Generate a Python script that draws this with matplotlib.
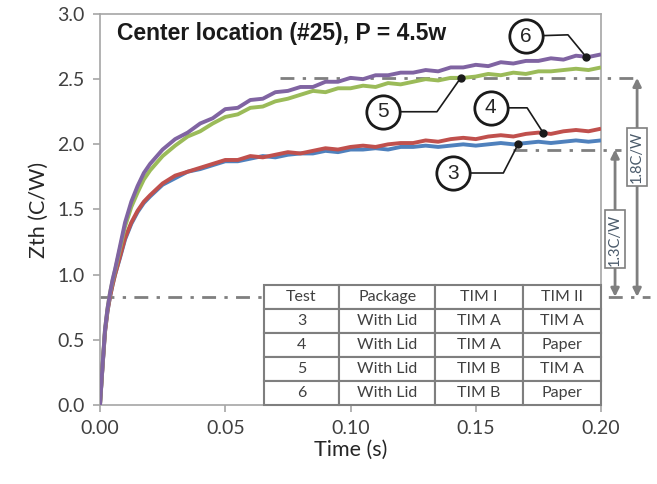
import matplotlib as mpl
import matplotlib.pyplot as plt
import numpy as np

mpl.rcParams.update({
    "font.family": ["Lato", "DejaVu Sans"],
    "axes.edgecolor": "#a6a6a6",
    "axes.linewidth": 1.2,
    "xtick.color": "#a6a6a6",
    "ytick.color": "#a6a6a6",
    "xtick.labelcolor": "#404040",
    "ytick.labelcolor": "#404040",
})

# time axis (s)
time_s = [0.0, 0.001, 0.002, 0.003, 0.004, 0.005, 0.006, 0.008, 0.010, 0.0125,
          0.015, 0.0175, 0.020, 0.025, 0.030, 0.035, 0.040, 0.045, 0.050, 0.055,
          0.060, 0.065, 0.070, 0.075, 0.080, 0.085, 0.090, 0.095, 0.100, 0.105,
          0.110, 0.115, 0.120, 0.125, 0.130, 0.135, 0.140, 0.145, 0.150, 0.155,
          0.160, 0.165, 0.170, 0.175, 0.180, 0.185, 0.190, 0.195, 0.200]

# Zth (C/W) per test
zth_3 = [0.00, 0.29, 0.56, 0.72, 0.83, 0.92, 1.00, 1.13, 1.27, 1.39,
         1.48, 1.55, 1.60, 1.69, 1.74, 1.79, 1.81, 1.84, 1.87, 1.87,
         1.89, 1.91, 1.90, 1.92, 1.93, 1.93, 1.95, 1.94, 1.96, 1.96,
         1.97, 1.96, 1.98, 1.98, 1.99, 1.98, 1.99, 2.00, 1.99, 2.00,
         2.01, 2.00, 2.01, 2.02, 2.01, 2.02, 2.03, 2.02, 2.03]
zth_4 = [0.00, 0.29, 0.56, 0.72, 0.83, 0.92, 1.00, 1.14, 1.28, 1.40,
         1.49, 1.56, 1.61, 1.70, 1.76, 1.79, 1.82, 1.85, 1.88, 1.88,
         1.91, 1.90, 1.92, 1.94, 1.93, 1.95, 1.97, 1.96, 1.98, 1.99,
         1.98, 2.00, 2.01, 2.01, 2.03, 2.02, 2.04, 2.05, 2.04, 2.06,
         2.07, 2.06, 2.08, 2.09, 2.08, 2.10, 2.11, 2.10, 2.12]
zth_5 = [0.00, 0.30, 0.58, 0.74, 0.86, 0.95, 1.03, 1.20, 1.37, 1.52,
         1.63, 1.73, 1.80, 1.91, 1.99, 2.06, 2.10, 2.16, 2.21, 2.23,
         2.28, 2.29, 2.33, 2.35, 2.38, 2.41, 2.40, 2.43, 2.43, 2.45,
         2.44, 2.47, 2.46, 2.48, 2.50, 2.49, 2.51, 2.51, 2.52, 2.54,
         2.53, 2.55, 2.54, 2.56, 2.56, 2.57, 2.58, 2.57, 2.59]
zth_6 = [0.00, 0.30, 0.58, 0.74, 0.86, 0.96, 1.04, 1.22, 1.40, 1.56,
         1.68, 1.78, 1.85, 1.96, 2.04, 2.09, 2.16, 2.20, 2.27, 2.28,
         2.34, 2.35, 2.40, 2.41, 2.44, 2.44, 2.48, 2.48, 2.51, 2.50,
         2.53, 2.53, 2.55, 2.55, 2.57, 2.56, 2.59, 2.59, 2.61, 2.60,
         2.63, 2.62, 2.64, 2.64, 2.66, 2.65, 2.68, 2.67, 2.69]

test_ids = ["3", "4", "5", "6"]
series = [zth_3, zth_4, zth_5, zth_6]
colors = ["#4f81bd", "#c0504d", "#9bbb59", "#8064a2"]

# callouts: marker time, circle centre, elbow
callout_t = [0.167, 0.177, 0.144, 0.194]
circle_xy = [(0.141, 1.78), (0.156, 2.28), (0.113, 2.25), (0.170, 2.83)]
elbow_xy = [(0.161, 1.78), (0.1705, 2.28), (0.1345, 2.25), (0.1868, 2.84)]

# reference levels and deltas
level_low = 0.83
level_mid = 1.96
level_high = 2.51

table_rows = [
    ["Test", "Package", "TIM I", "TIM II"],
    ["3", "With Lid", "TIM A", "TIM A"],
    ["4", "With Lid", "TIM A", "Paper"],
    ["5", "With Lid", "TIM B", "TIM A"],
    ["6", "With Lid", "TIM B", "Paper"],
]

fig = plt.figure(figsize=(6.57, 4.84), dpi=100)
ax = fig.add_axes([0.1522, 0.1632, 0.7626, 0.8079])

t = np.asarray(time_s)
for tid, z, c in zip(test_ids, series, colors):
    ax.plot(t, z, color=c, lw=2.8, solid_capstyle="butt", zorder=3)

# dash-dot reference lines
dd = dict(color="#7f7f7f", lw=2.0, ls=(0, (5, 3, 1.2, 3)), clip_on=False, zorder=2)
ax.plot([0.0, 0.2196], [level_low, level_low], **dd)
ax.plot([0.072, 0.2156], [level_high, level_high], **dd)
ax.plot([0.165, 0.208], [level_mid, level_mid], **dd)

arrow = dict(arrowstyle="<|-|>", color="#7f7f7f", lw=2.0, mutation_scale=12,
             shrinkA=0, shrinkB=0)
ax.annotate("", xy=(0.2144, level_high), xytext=(0.2144, level_low),
            arrowprops=arrow, annotation_clip=False)
ax.annotate("", xy=(0.2056, level_mid), xytext=(0.2056, level_low),
            arrowprops=arrow, annotation_clip=False)
box = dict(boxstyle="square,pad=0.2", fc="white", ec="#7f7f7f", lw=1.2)
ax.text(0.2144, 1.90, "1.8C/W", rotation=90, ha="center", va="center",
        fontsize=10.5, color="#4a5a6a", bbox=box, clip_on=False, zorder=6)
ax.text(0.2056, 1.27, "1.3C/W", rotation=90, ha="center", va="center",
        fontsize=10.5, color="#4a5a6a", bbox=box, clip_on=False, zorder=6)

# callouts
for tid, z, tm, cxy, exy in zip(test_ids, series, callout_t, circle_xy, elbow_xy):
    zm = float(np.interp(tm, t, z))
    ax.plot([cxy[0], exy[0], tm], [cxy[1], exy[1], zm], color="#1a1a1a",
            lw=1.2, zorder=7, clip_on=False)
    ax.plot([tm], [zm], "o", color="#1a1a1a", ms=5, zorder=8)
    ax.plot([cxy[0]], [cxy[1]], "o", ms=24, mfc="white", mec="#1a1a1a",
            mew=2.0, zorder=9, clip_on=False)
    ax.text(cxy[0], cxy[1], tid, ha="center", va="center", fontsize=15,
            family=["Liberation Sans"], color="#262626", zorder=10)

ax.text(0.0066, 2.85, "Center location (#25), P = 4.5w", fontsize=16.5,
        fontweight="bold", family=["Liberation Sans"], color="#1a1a1a",
        ha="left", va="center", zorder=5)

tbl = ax.table(cellText=table_rows, cellLoc="center",
               colWidths=[75 / 336, 96 / 336, 87 / 336, 78 / 336],
               bbox=[0.327, 0.0, 0.673, 0.307], zorder=6)
tbl.auto_set_font_size(False)
for (r, c), cell in tbl.get_celld().items():
    cell.set_edgecolor("#7f7f7f")
    cell.set_linewidth(1.5)
    cell.set_facecolor("white")
    cell.get_text().set_fontsize(11.5)
    cell.get_text().set_color("#404040")

ax.set_xlim(0, 0.2)
ax.set_ylim(0, 3.0)
ax.set_xticks(np.arange(0, 0.2001, 0.05))
ax.set_yticks(np.arange(0, 3.001, 0.5))
ax.xaxis.set_major_formatter(mpl.ticker.FormatStrFormatter("%.2f"))
ax.yaxis.set_major_formatter(mpl.ticker.FormatStrFormatter("%.1f"))
ax.tick_params(labelsize=14, length=5, width=1.2, pad=6)
ax.set_xlabel("Time (s)", fontsize=15.5, color="#262626", labelpad=2)
ax.set_ylabel("Zth (C/W)", fontsize=15.5, color="#262626", labelpad=6)

fig.savefig("out.png", dpi=100)
